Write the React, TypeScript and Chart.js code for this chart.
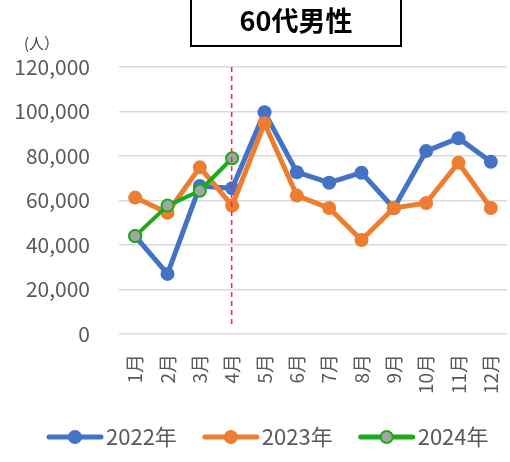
import React, { useEffect, useRef } from "react";
import { Chart, registerables } from "chart.js";

Chart.register(...registerables);

const months = ["1月", "2月", "3月", "4月", "5月", "6月", "7月", "8月", "9月", "10月", "11月", "12月"];
const data2022 = [44000, 27000, 66500, 65500, 99700, 72700, 68000, 72500, 56500, 82200, 88000, 77400];
const data2023 = [61300, 54500, 74900, 57700, 94700, 62200, 56600, 42200, 56600, 58900, 77000, 56600];
const data2024 = [44000, 57700, 64400, 79000];
const seriesNames = ["2022年", "2023年", "2024年"];
const titleText = "60代男性";
const unitText = "(人）";
const yTicks = [0, 20000, 40000, 60000, 80000, 100000, 120000];

const FONT = "'Noto Sans CJK JP', 'Open Sans', sans-serif";
const BLUE = "#4472c4";
const ORANGE = "#ed7d31";
const GREEN = "#1aab1a";
const GRAY = "#a5a5a5";

const extrasPlugin = {
  id: "extras",
  afterDraw(chart: any) {
    const ctx = chart.ctx;
    const xs = chart.scales.x;
    const ys = chart.scales.y;
    ctx.save();
    // dashed vertical line at 4月
    const lx = xs.getPixelForValue(3) - 0.5;
    ctx.strokeStyle = "#ff1a7a";
    ctx.lineWidth = 1.6;
    ctx.setLineDash([5, 4]);
    ctx.beginPath();
    ctx.moveTo(lx, ys.getPixelForValue(120000));
    ctx.lineTo(lx, ys.getPixelForValue(3500));
    ctx.stroke();
    ctx.setLineDash([]);

    // title box
    ctx.fillStyle = "#ffffff";
    ctx.fillRect(191, -5, 210, 51);
    ctx.strokeStyle = "#000000";
    ctx.lineWidth = 2;
    ctx.strokeRect(191, -5, 210, 51);
    ctx.fillStyle = "#000000";
    ctx.font = "bold 27px " + FONT;
    ctx.textAlign = "center";
    ctx.textBaseline = "middle";
    ctx.fillText(titleText, 296, 21);

    // unit label
    ctx.fillStyle = "#404040";
    ctx.font = "15px " + FONT;
    ctx.textAlign = "left";
    ctx.fillText(unitText, 24, 43);

    // legend
    const colors = [BLUE, ORANGE, GREEN];
    const fills = [BLUE, ORANGE, GRAY];
    let x = 47;
    const y = 437;
    ctx.font = "22px " + FONT;
    ctx.textBaseline = "middle";
    seriesNames.forEach((name, i) => {
      ctx.strokeStyle = colors[i];
      ctx.lineWidth = 5;
      ctx.lineCap = "round";
      ctx.beginPath();
      ctx.moveTo(x + 2, y);
      ctx.lineTo(x + 54, y);
      ctx.stroke();
      ctx.beginPath();
      ctx.arc(x + 28, y, i === 2 ? 6 : 7, 0, Math.PI * 2);
      ctx.fillStyle = fills[i];
      ctx.fill();
      if (i === 2) {
        ctx.lineWidth = 2;
        ctx.strokeStyle = GREEN;
        ctx.stroke();
      }
      ctx.fillStyle = "#595959";
      ctx.textAlign = "left";
      ctx.fillText(name, x + 59, y);
      const w = ctx.measureText(name).width;
      x += 59 + w + 26;
    });
    ctx.restore();
  },
};

export default function App() {
  const ref = useRef<HTMLCanvasElement>(null);
  useEffect(() => {
    if (!ref.current) return;
    const chart = new Chart(ref.current, {
      type: "line",
      data: {
        labels: months,
        datasets: [
          { label: seriesNames[0], data: data2022, borderColor: BLUE, backgroundColor: BLUE, borderWidth: 5, pointRadius: 7, pointBorderWidth: 0, pointBackgroundColor: BLUE, order: 3 },
          { label: seriesNames[1], data: data2023, borderColor: ORANGE, backgroundColor: ORANGE, borderWidth: 5, pointRadius: 7, pointBorderWidth: 0, pointBackgroundColor: ORANGE, order: 2 },
          { label: seriesNames[2], data: data2024, borderColor: GREEN, backgroundColor: GRAY, borderWidth: 4, pointRadius: 6, pointBorderWidth: 2, pointBorderColor: GREEN, pointBackgroundColor: GRAY, order: 1 },
        ],
      },
      options: {
        animation: false,
        responsive: false,
        maintainAspectRatio: false,
        layout: { autoPadding: false, padding: { top: 67, right: 3, bottom: 0, left: 0 } },
        plugins: { legend: { display: false }, title: { display: false }, tooltip: { enabled: false } },
        scales: {
          x: {
            offset: true,
            grid: { display: false, drawTicks: false },
            border: { display: false },
            ticks: { maxRotation: 90, minRotation: 90, padding: 20, color: "#595959", font: { family: FONT, size: 19 } },
            afterFit(scale: any) {
              scale.height = 128;
              scale.paddingLeft = 0;
              scale.paddingRight = 0;
            },
          },
          y: {
            min: 0,
            max: 120000,
            afterBuildTicks(scale: any) {
              scale.ticks = yTicks.map((v) => ({ value: v }));
            },
            grid: { color: "#d9d9d9", lineWidth: 1.5, drawTicks: false },
            border: { display: false },
            ticks: { padding: 29, color: "#595959", font: { family: FONT, size: 21 }, callback: (v: any) => Number(v).toLocaleString("en-US") },
            afterFit(scale: any) {
              scale.width = 119;
              scale.paddingTop = 0;
              scale.paddingBottom = 0;
            },
          },
        },
      },
      plugins: [extrasPlugin],
    });
    return () => chart.destroy();
  }, []);
  return (
    <div style={{ position: "fixed", left: 0, top: 0, width: 510, height: 462, background: "#fff" }}>
      <canvas ref={ref} width={510} height={462} style={{ width: 510, height: 462 }} />
    </div>
  );
}
